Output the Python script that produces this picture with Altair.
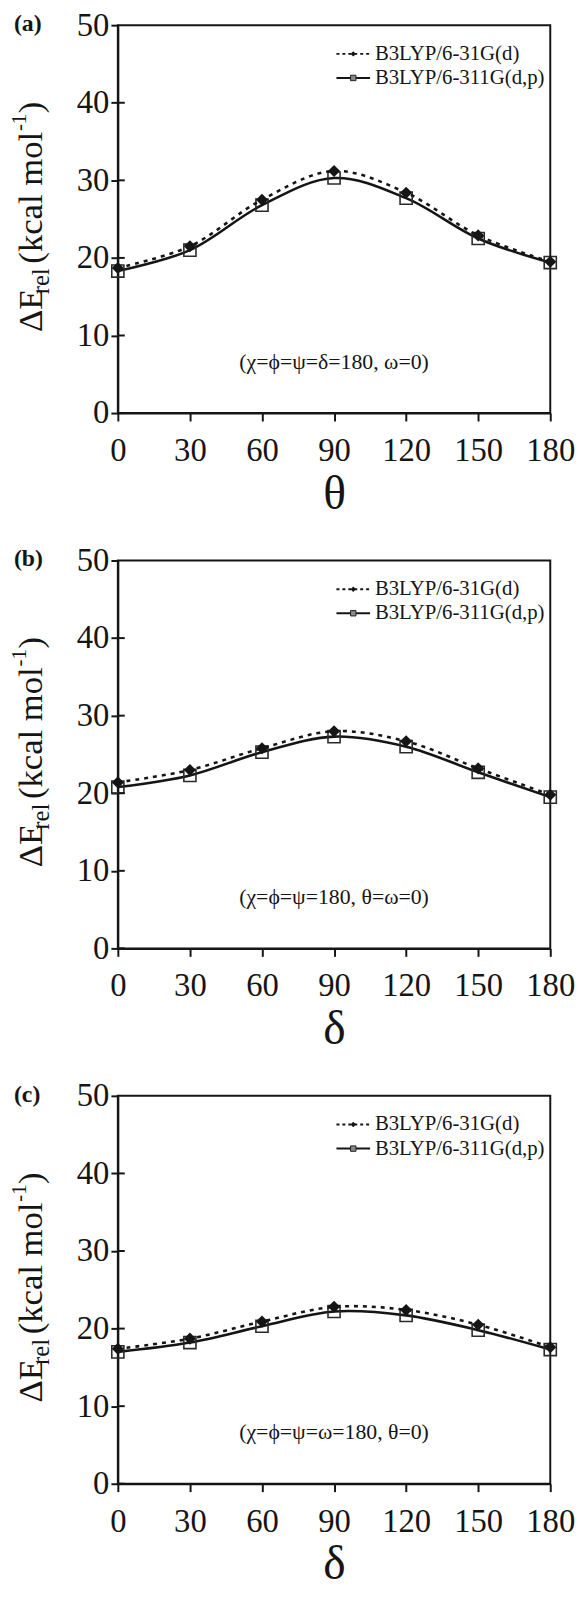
import altair as alt
import pandas as pd

angles = [0, 30, 60, 90, 120, 150, 180]
a_631 = [18.7, 21.5, 27.5, 31.2, 28.4, 22.9, 19.5]
a_6311 = [18.3, 21.0, 26.8, 30.3, 27.7, 22.5, 19.4]
b_631 = [21.4, 23.0, 25.8, 28.0, 26.7, 23.2, 19.8]
b_6311 = [20.8, 22.3, 25.3, 27.3, 26.0, 22.7, 19.5]
c_631 = [17.4, 18.7, 20.9, 22.8, 22.4, 20.5, 17.6]
c_6311 = [17.0, 18.2, 20.3, 22.2, 21.7, 19.8, 17.3]

series_names = ["B3LYP/6-31G(d)", "B3LYP/6-311G(d,p)"]
y_ticks = [0, 10, 20, 30, 40, 50]
x_ticks = [0, 30, 60, 90, 120, 150, 180]

W, H = 437, 392
FONT = "Liberation Serif"
INK = "#151515"


def panel(label, xtitle, note, s1, s2):
    df = pd.DataFrame({"angle": angles * 2,
                       "E": s1 + s2,
                       "series": [series_names[0]] * len(angles) + [series_names[1]] * len(angles)})
    d1 = df[df.series == series_names[0]]
    d2 = df[df.series == series_names[1]]
    x = alt.X("angle:Q", scale=alt.Scale(domain=[0, 180], nice=False),
              axis=alt.Axis(values=x_ticks, title=xtitle, grid=False, tickSize=8,
                            labelPadding=14, titlePadding=3, titleFontSize=48,
                            titleFont=FONT, labelFont=FONT, labelFontSize=33,
                            labelOverlap=False, labelBound=False, labelFlush=False,
                            titleFontWeight="normal"))
    y = alt.Y("E:Q", scale=alt.Scale(domain=[0, 50], nice=False),
              axis=alt.Axis(values=y_ticks, title=None, grid=False, tickSize=7,
                            labelFont=FONT, labelFontSize=33, labelOverlap=False,
                            labelFlush=False, labelPadding=2))
    solid = alt.Chart(d2).mark_line(interpolate="catmull-rom", color=INK, strokeWidth=2.6).encode(x=x, y=y)
    squares = alt.Chart(d2).mark_point(shape="square", size=150, filled=False, color="#2a2a2a",
                                        strokeWidth=1.6, opacity=1).encode(x=x, y=y)
    dashed = alt.Chart(d1).mark_line(interpolate="catmull-rom", color=INK, strokeWidth=2.6,
                                     strokeDash=[4, 5]).encode(x=x, y=y)
    diamonds = alt.Chart(d1).mark_point(shape="diamond", size=150, filled=True, color=INK,
                                         opacity=1).encode(x=x, y=y)
    inner = alt.Chart(pd.DataFrame({"t": y_ticks[:-1]})).mark_rule(color=INK, strokeWidth=2).encode(
        y=alt.Y("t:Q", scale=alt.Scale(domain=[0, 50], nice=False)),
        x=alt.value(0), x2=alt.value(7))
    notetxt = alt.Chart(pd.DataFrame({"n": [note]})).mark_text(
        font=FONT, fontSize=22, color=INK, align="center", baseline="middle").encode(
        x=alt.datum(90), y=alt.datum(6.6), text="n:N")
    # legend
    leg_text = alt.Chart(pd.DataFrame({"s": series_names, "yy": [46.3, 43.2]})).mark_text(
        font=FONT, fontSize=21, color=INK, align="left", baseline="middle").encode(
        x=alt.datum(107), y=alt.Y("yy:Q"), text="s:N")
    leg_l1 = alt.Chart(pd.DataFrame({"a": [0]})).mark_rule(color=INK, strokeWidth=2, strokeDash=[3, 3]).encode(
        x=alt.datum(91), x2=alt.datum(105), y=alt.datum(46.3))
    leg_l2 = alt.Chart(pd.DataFrame({"a": [0]})).mark_rule(color=INK, strokeWidth=2).encode(
        x=alt.datum(91), x2=alt.datum(105), y=alt.datum(43.2))
    leg_p1 = alt.Chart(pd.DataFrame({"a": [0]})).mark_point(shape="diamond", size=30, filled=True,
                                                             color=INK, opacity=1).encode(
        x=alt.datum(98), y=alt.datum(46.3))
    leg_p2 = alt.Chart(pd.DataFrame({"a": [0]})).mark_point(shape="square", size=30, filled=True,
                                                             color="#888", stroke="#222", strokeWidth=1,
                                                             opacity=1).encode(
        x=alt.datum(98), y=alt.datum(43.2))
    # y title pieces
    pieces = [("\u0394E", 310, -88, 35), ("rel", 272, -78, 25), ("(kcal mol", 241, -88, 35),
              ("-1", 107, -99, 21), (")", 89, -88, 35)]
    ttl = []
    for txt, yy, xx, fs in pieces:
        ttl.append(alt.Chart(pd.DataFrame({"t": [txt]})).mark_text(
            font=FONT, fontSize=fs, color=INK, angle=270, align="left", baseline="middle").encode(
            x=alt.value(xx), y=alt.value(yy), text="t:N"))
    lab = alt.Chart(pd.DataFrame({"t": [label]})).mark_text(
        font=FONT, fontSize=24, fontWeight="bold", color=INK, align="left", baseline="middle").encode(
        x=alt.value(-105), y=alt.value(-1), text="t:N")
    return alt.layer(solid, squares, dashed, diamonds, inner, notetxt, leg_l1, leg_l2, leg_p1, leg_p2,
                     leg_text, lab, *ttl).properties(width=W, height=H)


pa = panel("(a)", "\u03b8", "(\u03c7=\u03d5=\u03c8=\u03b4=180, \u03c9=0)", a_631, a_6311)
pb = panel("(b)", "\u03b4", "(\u03c7=\u03d5=\u03c8=180, \u03b8=\u03c9=0)", b_631, b_6311)
pc = panel("(c)", "\u03b4", "(\u03c7=\u03d5=\u03c8=\u03c9=180, \u03b8=0)", c_631, c_6311)

chart = alt.vconcat(pa, pb, pc, spacing=149, bounds="flush").properties(
    padding={"left": 0, "top": -8, "right": -1, "bottom": -10}
).configure_view(stroke=INK, strokeWidth=2).configure_axis(
    labelFont=FONT, labelFontSize=33, labelColor=INK, titleFont=FONT, titleColor=INK,
    domainColor=INK, domainWidth=2, tickColor=INK, tickWidth=2
)

chart.save("out.html", embed_options={"renderer": "svg", "actions": False})
